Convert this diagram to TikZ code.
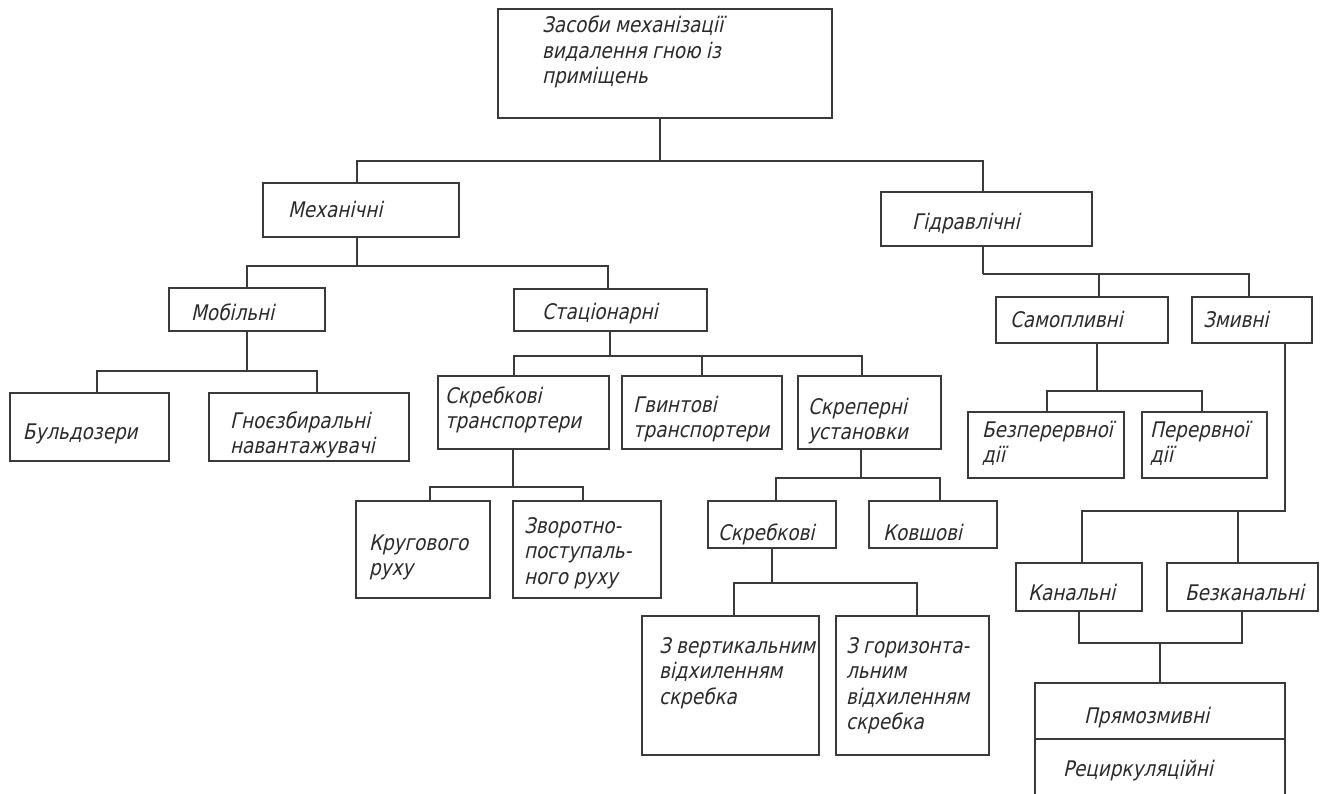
\documentclass[tikz,border=0pt]{standalone}
\usepackage{fontspec}
\newfontfamily\gostfont{DejaVu Sans Condensed}[FakeSlant=0.22,FakeStretch=0.95]
\newcommand\gostlabelfont{\gostfont\fontsize{21.5}{25.5}\selectfont\spaceskip=0.25em\relax}
\usetikzlibrary{fit}
\definecolor{ink}{HTML}{2A2A2A}
\definecolor{linecol}{HTML}{3A3A3A}
\begin{document}
\begin{tikzpicture}[x=1pt,y=-1pt,
  box/.style={draw=linecol, line width=1.3pt, inner sep=0pt, outer sep=0pt},
  lbl/.style={anchor=base west, inner sep=0pt, outer sep=0pt, align=left, text=ink,
    font=\gostlabelfont},
  conn/.style={draw=linecol, line width=1.3pt}]
\useasboundingbox (0,0) rectangle (1323,794);
% ---------- boxes ----------
\node[box, fit={(498,9) (832,118)}] (root) {};
\node[box, fit={(263,183) (459,237)}] (mech) {};
\node[box, fit={(881,192) (1092,246)}] (hyd) {};
\node[box, fit={(169,288) (325,331)}] (mob) {};
\node[box, fit={(514,289) (707,331)}] (stat) {};
\node[box, fit={(10,393) (169,461)}] (buld) {};
\node[box, fit={(209,393) (409,461)}] (gno) {};
\node[box, fit={(438,376) (609,449)}] (skrtr) {};
\node[box, fit={(622,376) (782,449)}] (gvynt) {};
\node[box, fit={(798,376) (941,449)}] (skrep) {};
\node[box, fit={(356,501) (490,598)}] (krug) {};
\node[box, fit={(513,501) (661,598)}] (zvor) {};
\node[box, fit={(708,501) (836,548)}] (skrebk) {};
\node[box, fit={(869,501) (997,548)}] (kovsh) {};
\node[box, fit={(642,616) (819,755)}] (zvert) {};
\node[box, fit={(836,616) (989,755)}] (zhor) {};
\node[box, fit={(996,297) (1168,343)}] (samo) {};
\node[box, fit={(1192,297) (1312,343)}] (zmyv) {};
\node[box, fit={(968,412) (1124,478)}] (bezp) {};
\node[box, fit={(1142,412) (1267,478)}] (perer) {};
\node[box, fit={(1016,563) (1142,611)}] (kan) {};
\node[box, fit={(1167,563) (1318,611)}] (bezk) {};
\node[box, fit={(1035,683) (1285,739)}] (prz) {};
\node[box, fit={(1035,739) (1285,812)}] (rec) {};
% ---------- texts (base = baseline of last line) ----------
\node[lbl] (root-t) at (542,84) {Засоби механізації\\видалення гною із\\приміщень};
\node[lbl] (mech-t) at (288,218) {Механічні};
\node[lbl] (hyd-t) at (912,230) {Гідравлічні};
\node[lbl] (mob-t) at (191,321) {Мобільні};
\node[lbl] (stat-t) at (542,320) {Стаціонарні};
\node[lbl] (buld-t) at (23,439) {Бульдозери};
\node[lbl] (gno-t) at (230,453.5) {Гноєзбиральні\\навантажувачі};
\node[lbl] (skrtr-t) at (445,428.5) {Скребкові\\транспортери};
\node[lbl] (gvynt-t) at (633,437.5) {Гвинтові\\транспортери};
\node[lbl] (skrep-t) at (808,439.5) {Скреперні\\установки};
\node[lbl] (krug-t) at (369,575.5) {Кругового\\руху};
\node[lbl] (zvor-t) at (524,584) {Зворотно-\\поступаль-\\ного руху};
\node[lbl] (skrebk-t) at (718,540) {Скребкові};
\node[lbl] (kovsh-t) at (883,540) {Ковшові};
\node[lbl] (zvert-t) at (659,704) {З вертикальним\\відхиленням\\скребка};
\node[lbl] (zhor-t) at (846,729.5) {З горизонта-\\льним\\відхиленням\\скребка};
\node[lbl] (samo-t) at (1010,328) {Самопливні};
\node[lbl] (zmyv-t) at (1203,328) {Змивні};
\node[lbl] (bezp-t) at (982,462.5) {Безперервної\\дії};
\node[lbl] (perer-t) at (1150,462.5) {Перервної\\дії};
\node[lbl] (kan-t) at (1028,600) {Канальні};
\node[lbl] (bezk-t) at (1185,600) {Безканальні};
\node[lbl] (prz-t) at (1084,723) {Прямозмивні};
\node[lbl] (rec-t) at (1063,776) {Рециркуляційні};
% ---------- bus levels ----------
\coordinate (b1) at (0,161);
\coordinate (b2) at (0,266);
\coordinate (b3) at (0,371);
\coordinate (b4) at (0,356);
\coordinate (b5) at (0,487);
\coordinate (b6) at (0,478);
\coordinate (b7) at (0,583);
\coordinate (b8) at (0,274);
\coordinate (b9) at (0,391);
\coordinate (b10) at (0,511);
\coordinate (b11) at (0,643);
% ---------- connectors ----------
\draw[conn] ([xshift=-5pt]root.south) -- ([xshift=-5pt]root.south |- b1);
\draw[conn] ([xshift=-4pt]mech.north) |- ([xshift=-3.5pt]hyd.north |- b1) -- ([xshift=-3.5pt]hyd.north);
% Механічні
\draw[conn] ([xshift=-4pt]mech.south) -- ([xshift=-4pt]mech.south |- b2);
\draw[conn] (mob.north) |- ([xshift=-2.5pt]stat.north |- b2) -- ([xshift=-2.5pt]stat.north);
% Мобільні
\draw[conn] (mob.south) -- (mob.south |- b3);
\draw[conn] ([xshift=7.5pt]buld.north) |- ([xshift=8pt]gno.north |- b3) -- ([xshift=8pt]gno.north);
% Стаціонарні
\draw[conn] ([xshift=-0.5pt]stat.south) -- ([xshift=-0.5pt]stat.south |- b4);
\draw[conn] ([xshift=-9.5pt]skrtr.north) |- ([xshift=-7.5pt]skrep.north |- b4) -- ([xshift=-7.5pt]skrep.north);
\draw[conn] (gvynt.north) -- (gvynt.north |- b4);
% Скребкові транспортери
\draw[conn] ([xshift=-10.5pt]skrtr.south) -- ([xshift=-10.5pt]skrtr.south |- b5);
\draw[conn] ([xshift=7pt]krug.north) |- ([xshift=-4pt]zvor.north |- b5) -- ([xshift=-4pt]zvor.north);
% Скреперні установки
\draw[conn] ([xshift=-8.5pt]skrep.south) -- ([xshift=-8.5pt]skrep.south |- b6);
\draw[conn] ([xshift=4pt]skrebk.north) |- ([xshift=7pt]kovsh.north |- b6) -- ([xshift=7pt]kovsh.north);
% Скребкові
\draw[conn] (skrebk.south) -- (skrebk.south |- b7);
\draw[conn] ([xshift=3.5pt]zvert.north) |- ([xshift=4.5pt]zhor.north |- b7) -- ([xshift=4.5pt]zhor.north);
% Гідравлічні
\draw[conn] ([xshift=-3.5pt]hyd.south) -- ([xshift=-3.5pt]hyd.south |- b8);
\draw[conn] ([xshift=-3.5pt]hyd.south |- b8) -| ([xshift=-3pt]zmyv.north);
\draw[conn] ([xshift=17pt]samo.north) -- ([xshift=17pt]samo.north |- b8);
% Самопливні
\draw[conn] ([xshift=15pt]samo.south) -- ([xshift=15pt]samo.south |- b9);
\draw[conn] ([xshift=1pt]bezp.north) |- ([xshift=-2.5pt]perer.north |- b9) -- ([xshift=-2.5pt]perer.north);
% Змивні
\draw[conn] ([xshift=33pt]zmyv.south) |- ([xshift=3pt]kan.north |- b10) -- ([xshift=3pt]kan.north);
\draw[conn] ([xshift=-4.5pt]bezk.north) -- ([xshift=-4.5pt]bezk.north |- b10);
% Канальні / Безканальні -> Прямозмивні
\draw[conn] (kan.south) |- ([xshift=-0.5pt]bezk.south |- b11) -- ([xshift=-0.5pt]bezk.south);
\draw[conn] (prz.north) -- (prz.north |- b11);
\end{tikzpicture}
\end{document}
